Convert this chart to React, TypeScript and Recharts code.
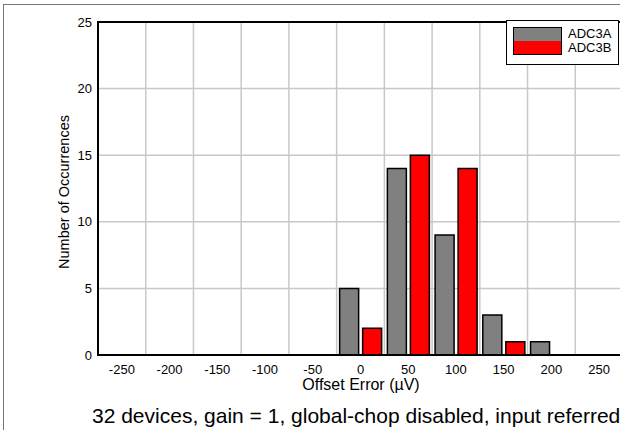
import React from 'react';
import { BarChart, Bar, XAxis, YAxis, CartesianGrid, ReferenceArea } from 'recharts';

const categories = ['-250', '-200', '-150', '-100', '-50', '0', '50', '100', '150', '200', '250'];
const adc3a = [0, 0, 0, 0, 0, 5, 14, 9, 3, 1, 0];
const adc3b = [0, 0, 0, 0, 0, 2, 15, 14, 1, 0, 0];
const yTicks = [0, 5, 10, 15, 20, 25];
const seriesNames = ['ADC3A', 'ADC3B'];
const seriesColors = ['#808080', '#ff0000'];

const data = categories.map((c, i) => ({ cat: c, a: adc3a[i], b: adc3b[i] }));

const FONT = '"Liberation Sans", Arial, sans-serif';

export default function App() {
  return (
    <div
      style={{
        position: 'absolute',
        left: 0,
        top: 0,
        width: 620,
        height: 430,
        overflow: 'hidden',
        background: '#fff',
        fontFamily: FONT,
      }}
    >
      <div
        style={{
          position: 'absolute',
          left: 3,
          top: 4,
          width: 700,
          height: 500,
          borderLeft: '1px solid #777',
          borderTop: '1px solid #777',
        }}
      />
      <div style={{ position: 'absolute', left: 0, top: 0 }}>
        <BarChart
          width={660}
          height={430}
          data={data}
          margin={{ top: 22, right: 37, bottom: 45, left: 0 }}
          barCategoryGap={3}
          barGap={4}
        >
          <CartesianGrid
            stroke="#c8c8c8"
            strokeWidth={1.5}
            verticalCoordinatesGenerator={({ offset }: any) =>
              categories.slice(1).map((_, i) => offset.left + ((i + 1) * offset.width) / categories.length)
            }
          />
          <XAxis
            dataKey="cat"
            interval={0}
            tickLine={false}
            tickSize={6}
            tickMargin={4}
            axisLine={{ stroke: '#000', strokeWidth: 2 }}
            tick={{ fontSize: 13, fill: '#000', fontFamily: FONT }}
            height={30}
          />
          <YAxis
            domain={[0, 25]}
            ticks={yTicks}
            width={98}
            tickLine={false}
            tickSize={6}
            tickMargin={0}
            axisLine={{ stroke: '#000', strokeWidth: 2 }}
            tick={{ fontSize: 13, fill: '#000', fontFamily: FONT }}
          />
          <ReferenceArea y1={0} y2={25} fill="none" stroke="#000" strokeWidth={2} ifOverflow="visible" />
          <Bar dataKey="a" name={seriesNames[0]} fill={seriesColors[0]} stroke="#000" strokeWidth={1.5} isAnimationActive={false} />
          <Bar dataKey="b" name={seriesNames[1]} fill={seriesColors[1]} stroke="#000" strokeWidth={1.5} isAnimationActive={false} />
        </BarChart>
      </div>
      {/* Legend */}
      <div
        style={{
          position: 'absolute',
          left: 506,
          top: 20,
          width: 111,
          height: 43,
          border: '1.5px solid #000',
          background: '#fff',
        }}
      >
        {seriesNames.map((n, i) => (
          <div key={n} style={{ position: 'absolute', left: 0, top: 6 + i * 14, height: 14, width: 111 }}>
            <div
              style={{
                position: 'absolute',
                left: 6,
                top: 0,
                width: 49,
                height: 14,
                background: seriesColors[i],
                boxSizing: 'border-box',
                borderLeft: '1px solid #000',
                borderRight: '1px solid #000',
                borderTop: i === 0 ? '1px solid #000' : 'none',
                borderBottom: i === 1 ? '1px solid #000' : 'none',
              }}
            />
            <div style={{ position: 'absolute', left: 61, top: 0, fontSize: 13, lineHeight: '14px', color: '#000' }}>{n}</div>
          </div>
        ))}
      </div>
      {/* Y axis title */}
      <div
        style={{
          position: 'absolute',
          left: 64,
          top: 192,
          transform: 'translate(-50%, -50%) rotate(-90deg)',
          whiteSpace: 'nowrap',
          fontSize: 14.5,
          color: '#000',
        }}
      >
        Number of Occurrences
      </div>
      {/* X axis title */}
      <div
        style={{
          position: 'absolute',
          left: 361,
          top: 385,
          transform: 'translate(-50%, -50%)',
          whiteSpace: 'nowrap',
          fontSize: 16,
          color: '#000',
        }}
      >
        Offset Error (µV)
      </div>
      {/* Subtitle */}
      <div
        style={{
          position: 'absolute',
          left: 92,
          top: 416,
          transform: 'translateY(-50%)',
          whiteSpace: 'nowrap',
          fontSize: 21,
          color: '#000',
        }}
      >
        32 devices, gain = 1, global-chop disabled, input referred
      </div>
    </div>
  );
}
